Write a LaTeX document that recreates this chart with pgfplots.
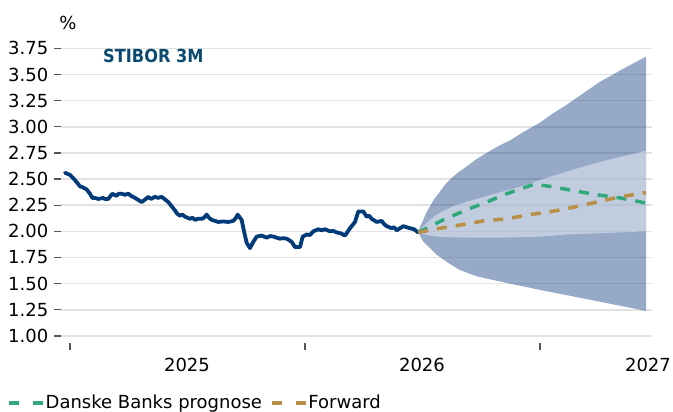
\documentclass[border=0pt]{standalone}
\usepackage{pgfplots}
\pgfplotsset{compat=1.18}
\usepackage{fontspec}
\setmainfont{DejaVu Sans}
\newfontfamily\titlefont{DejaVu Sans Condensed}
\definecolor{navy}{HTML}{003A78}
\definecolor{titleblue}{HTML}{0B4A6F}
\definecolor{fanc}{HTML}{1F4A8A}
\definecolor{dbgreen}{HTML}{2FA97A}
\definecolor{dbgold}{HTML}{B98F45}
\definecolor{gridc}{HTML}{E2E2E2}
\definecolor{tickc}{HTML}{555555}
\begin{document}
\fontsize{18}{21}\selectfont
\begin{tikzpicture}[x=1pt,y=1pt]
\useasboundingbox (0,0) rectangle (673,412);
\begin{axis}[
  at={(61pt,68.7pt)}, anchor=south west,
  scale only axis, width=591pt, height=295pt,
  xmin=61, xmax=652, ymin=0.93, ymax=3.75,
  axis line style={draw=none},
  /pgf/number format/assume math mode=true,
  ytick={1,1.25,1.5,1.75,2,2.25,2.5,2.75,3,3.25,3.5,3.75},
  yticklabel style={/pgf/number format/fixed, /pgf/number format/fixed zerofill, /pgf/number format/precision=2, anchor=east, inner sep=0pt, xshift=-6pt},
  ymajorgrids, grid style={gridc, line width=1.5pt},
  xtick={70,305,540}, xticklabels={},
  tick pos=left,
  tick align=outside, major tick length=6.5pt,
  tick style={tickc, line width=1.2pt},
  extra x ticks={187,422,648}, extra x tick labels={2025,2026,2027},
  extra x tick style={major tick length=0pt, grid=none, xticklabel style={anchor=north, inner sep=0pt, yshift=-14.7pt}},
  legend style={at={(axis description cs:-0.0914,-0.2024)}, anchor=west, draw=none, fill=none, inner sep=0pt,
    nodes={inner sep=0pt}, legend columns=2,
    /tikz/every odd column/.append style={column sep=0pt},
    /tikz/every even column/.append style={column sep=8pt}},
  legend cell align=left,
  legend image code/.code={\draw[#1, dash pattern=on 10pt off 14pt] (0pt,0pt) -- (35pt,0pt);},
]
% outer fan
\addplot[forget plot, draw=none, fill=fanc, fill opacity=0.47] coordinates {
(418.3,1.99) (420.3,2.05) (423.3,2.11) (426.3,2.18) (430,2.24) (434.3,2.31) (440,2.38) (445.3,2.45) (451.7,2.51)
(458.3,2.565) (466.7,2.62) (476.3,2.69) (486.7,2.75) (498.3,2.815) (510,2.87) (524.3,2.955) (540,3.04) (553.3,3.13)
(566.7,3.21) (583.3,3.32) (600,3.43) (623.3,3.555) (646,3.67)
(646,1.24) (600,1.327) (566.7,1.39) (540,1.44) (510,1.50) (493.3,1.535) (476.7,1.57) (468.3,1.60) (460,1.63)
(451.3,1.68) (443.3,1.73) (436.3,1.78) (430,1.84) (423.3,1.90) (418.3,1.99)
} -- cycle;
% inner fan
\addplot[forget plot, draw=none, fill=white, fill opacity=0.42] coordinates {
(418.3,1.99) (423.3,2.05) (430,2.11) (436.7,2.16) (444.3,2.20) (453.3,2.24) (464.3,2.275) (476.7,2.31) (493.3,2.355)
(510,2.40) (526.3,2.445) (540,2.49) (556.3,2.54) (573.3,2.59) (589.3,2.635) (606.7,2.68) (646,2.77)
(646,2.00) (606.7,1.985) (566.7,1.97) (540,1.95) (500,1.94) (476.7,1.94) (443.3,1.945) (430,1.96) (423.3,1.975) (418.3,1.99)
} -- cycle;
% history
\addplot[forget plot, navy, line width=3.8pt, line join=round, line cap=round] coordinates {
(65,2.56) (70,2.54) (75,2.49) (80,2.43) (83,2.42) (86.7,2.40) (90,2.36) (92.3,2.32) (95,2.32) (98.3,2.31) (101,2.315) (103,2.32) (105,2.31) (108.3,2.31)
(112.3,2.36) (114,2.35) (116.7,2.34) (118.5,2.36) (121.7,2.36) (125,2.35) (128.3,2.36) (131,2.34) (135,2.32) (141.7,2.28) (144.5,2.30) (148.3,2.33) (151,2.31) (155,2.33) (158,2.32) (161.7,2.33)
(168.3,2.28) (175,2.20) (177,2.17) (180,2.15) (182.5,2.16) (185,2.14) (190,2.12) (192.5,2.13) (195,2.11) (198,2.12) (201.7,2.12) (204,2.13) (206.7,2.16) (209,2.13) (211.7,2.11)
(218.3,2.09) (223,2.095) (228.3,2.09) (233.3,2.10) (236,2.13) (237.7,2.16) (240,2.13) (241.7,2.11) (244,2.00) (246.7,1.89) (250,1.84)
(253.3,1.90) (256.7,1.95) (261.7,1.96) (264,1.95) (266.7,1.94) (270,1.955) (273.3,1.95) (276.5,1.94) (280,1.93) (283,1.935) (286.7,1.93) (291.7,1.90) (295,1.85)
(300,1.85) (302.7,1.95) (306.7,1.97) (310,1.965) (313.3,2.00) (318.3,2.02) (321.5,2.01) (325,2.02) (330,2.00) (333,2.005) (336.7,1.99) (341,1.98) (345,1.96)
(350,2.03) (355,2.09) (358.3,2.19) (363.3,2.19) (366.7,2.14) (369,2.15) (371.7,2.12) (376.7,2.09) (381.7,2.10) (384,2.07) (386.7,2.05)
(391.7,2.03) (394,2.04) (396.7,2.01) (400,2.03) (403.3,2.05) (406.5,2.04) (410,2.03) (414,2.02) (418.3,1.99)
};
% Danske Banks prognose
\addplot[dbgreen, line width=3.5pt, dash pattern=on 10pt off 9pt] coordinates {
(418.3,1.99) (443.3,2.11) (465,2.20) (486.7,2.28) (506.7,2.36) (534,2.45) (550,2.43) (573.3,2.39) (596.7,2.35) (620,2.32) (646,2.27)
};
\addlegendentry{Danske Banks prognose}
% Forward
\addplot[dbgold, line width=3.5pt, dash pattern=on 10pt off 9pt] coordinates {
(418.3,1.99) (440,2.03) (460,2.06) (483.3,2.10) (506.7,2.12) (530,2.16) (551.7,2.19) (573.3,2.23) (596.7,2.28) (620,2.33) (646,2.37)
};
\addlegendentry{Forward}
\node[anchor=west, inner sep=0pt, font=\titlefont\bfseries, text=titleblue] at (axis cs:103,3.677) {STIBOR 3M};
\end{axis}
\node at (68,389.5) {\%};
\end{tikzpicture}
\end{document}
